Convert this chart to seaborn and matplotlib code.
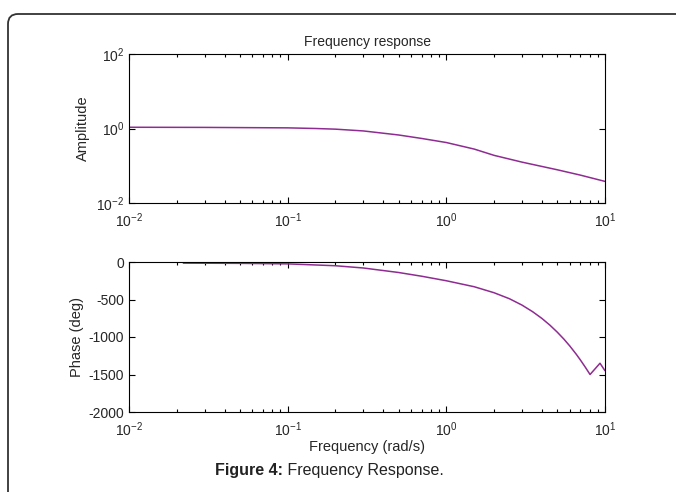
import numpy as np
import pandas as pd
import matplotlib
matplotlib.use("Agg")
import matplotlib.pyplot as plt
import matplotlib.ticker as mticker
from matplotlib.patches import FancyBboxPatch
import seaborn as sns

# ---- data ----
amp_freq = [0.01, 0.03, 0.1, 0.15, 0.2, 0.3, 0.5, 0.7, 1.0, 1.5, 2.0, 3.0, 5.0, 7.0, 10.0]
amp_vals = [1.08, 1.07, 1.04, 1.0, 0.96, 0.86, 0.67, 0.54, 0.42, 0.28, 0.19, 0.125, 0.078, 0.056, 0.038]

phase_freq = [0.022, 0.05, 0.1, 0.2, 0.3, 0.5, 0.7, 1.0, 1.5, 2.0, 2.5, 3.0, 3.5, 4.0, 4.5,
              5.0, 5.5, 6.0, 6.6, 7.0, 7.5, 8.05, 9.3, 10.0]
phase_vals = [-15, -18, -25, -50, -80, -140, -190, -250, -330, -410, -490, -575, -663, -752, -843,
              -935, -1027, -1120, -1232, -1307, -1400, -1500, -1350, -1450]

amp_yticks = [1e-2, 1e0, 1e2]
phase_yticks = [0, -500, -1000, -1500, -2000]

title_text = "Frequency response"
amp_label = "Amplitude"
phase_label = "Phase (deg)"
freq_label = "Frequency (rad/s)"
caption_bold = "Figure 4:"
caption_rest = " Frequency Response."

sns.set_style("ticks")
plt.rcParams["font.family"] = ["Liberation Sans", "DejaVu Sans"]
plt.rcParams["mathtext.fontset"] = "custom"
plt.rcParams["mathtext.rm"] = "Liberation Sans"
plt.rcParams["mathtext.it"] = "Liberation Sans:italic"
plt.rcParams["mathtext.bf"] = "Liberation Sans:bold"
plt.rcParams["axes.unicode_minus"] = False

W, H = 676, 492
fig = plt.figure(figsize=(W / 100, H / 100), dpi=100)

line_color = "#8e2c91"
fs = 10


def pow10_fmt(v, pos):
    e = int(round(np.log10(v)))
    return r"$\mathregular{10^{%d}}$" % e


ax1 = fig.add_axes([129 / W, 1 - 203 / H, (605 - 129) / W, (203 - 54) / H])
ax2 = fig.add_axes([129 / W, 1 - 412 / H, (605 - 129) / W, (412 - 262) / H])

df_amp = pd.DataFrame({"freq": amp_freq, "amp": amp_vals})
df_ph = pd.DataFrame({"freq": phase_freq, "phase": phase_vals})

sns.lineplot(data=df_amp, x="freq", y="amp", ax=ax1, color=line_color, lw=1.1)
sns.lineplot(data=df_ph, x="freq", y="phase", ax=ax2, color=line_color, lw=1.1)

for ax in (ax1, ax2):
    ax.set_xscale("log")
    ax.set_xlim(1e-2, 1e1)
    ax.xaxis.set_major_locator(mticker.LogLocator(base=10, numticks=10))
    ax.xaxis.set_major_formatter(mticker.FuncFormatter(pow10_fmt))
    ax.xaxis.set_minor_locator(mticker.LogLocator(base=10, subs=np.arange(2, 10), numticks=20))
    ax.xaxis.set_minor_formatter(mticker.NullFormatter())
    ax.tick_params(which="both", direction="in", top=True, right=True,
                   labelsize=fs, color="black", width=0.8)
    ax.tick_params(which="major", length=4)
    ax.tick_params(axis="x", which="major", pad=6)
    ax.tick_params(which="minor", length=2.5)
    for sp in ax.spines.values():
        sp.set_linewidth(0.8)
        sp.set_color("black")
    ax.set_xlabel("")
    ax.set_ylabel("")

ax1.set_yscale("log")
ax1.set_ylim(1e-2, 1e2)
ax1.set_yticks(amp_yticks)
ax1.yaxis.set_minor_locator(mticker.NullLocator())
ax1.yaxis.set_major_formatter(mticker.FuncFormatter(pow10_fmt))
ax1.set_title(title_text, fontsize=fs, pad=6)
ax1.set_ylabel(amp_label, fontsize=fs + 0.5, labelpad=4)

ax2.set_ylim(-2000, 0)
ax2.set_yticks(phase_yticks)
ax2.yaxis.set_minor_locator(mticker.NullLocator())
ax2.set_ylabel(phase_label, fontsize=fs + 0.5, labelpad=3)
ax2.set_xlabel(freq_label, fontsize=fs + 0.5, labelpad=1)

# caption
t1 = fig.text(215 / W, 1 - 470 / H, caption_bold, fontsize=11.5, fontweight="bold",
              ha="left", va="center", color="#222222")
fig.canvas.draw()
bb = t1.get_window_extent(renderer=fig.canvas.get_renderer())
fig.text(bb.x1 / W, 1 - 470 / H, caption_rest, fontsize=11.5,
         ha="left", va="center", color="#222222")

# rounded frame (open to right and bottom)
frame = FancyBboxPatch((8 / 100, -0.5), 7.5, (H - 14) / 100 + 0.5,
                       boxstyle="round,pad=0,rounding_size=0.1",
                       transform=fig.dpi_scale_trans, fill=False,
                       edgecolor="#333333", linewidth=1.3, clip_on=False)
fig.patches.append(frame)

fig.savefig("out.png", dpi=100)
